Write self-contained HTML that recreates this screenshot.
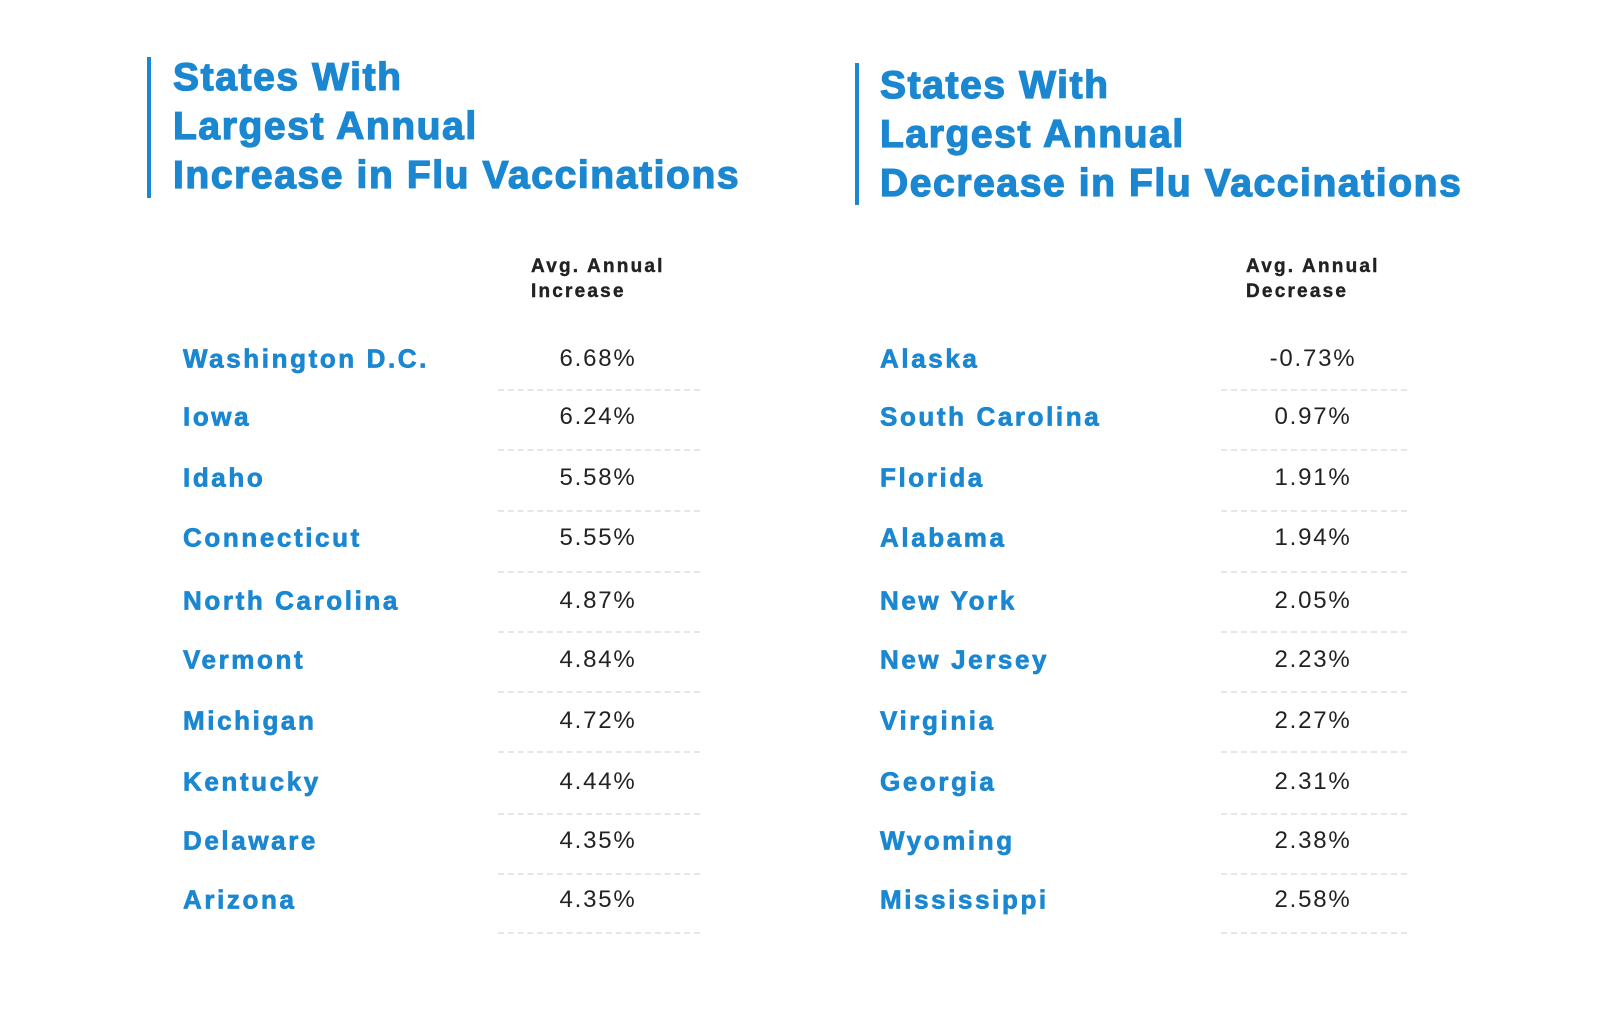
<!DOCTYPE html>
<html><head><meta charset="utf-8"><style>
body{margin:0;width:1600px;height:1010px;background:#fff;position:relative;overflow:hidden;font-family:"Liberation Sans",sans-serif}
.t{position:absolute;color:#1a87d0;font-weight:bold;font-size:39px;line-height:49px;letter-spacing:1.6px;white-space:nowrap;-webkit-text-stroke:1.3px #1a87d0}
.bar{position:absolute;width:4px;background:#1a87d0}
.h{position:absolute;font-weight:bold;font-size:19px;line-height:25px;color:#222;letter-spacing:2.2px;-webkit-text-stroke:0.4px #222}
.n{position:absolute;color:#1a87d0;font-weight:bold;font-size:26px;letter-spacing:2.6px;white-space:nowrap;transform:translateY(-50%);-webkit-text-stroke:0.7px #1a87d0}
.v{position:absolute;color:#222;font-size:24px;letter-spacing:1.8px;width:200px;text-align:center;transform:translateY(-50%)}
.d{position:absolute;height:0;border-top:2px dashed #e6e6e6}
</style></head><body>
<div class="bar" style="left:147px;top:57px;height:141px"></div>
<div class="t" style="left:173px;top:53px">States With<br>Largest Annual<br>Increase in Flu Vaccinations</div>
<div class="bar" style="left:855px;top:63px;height:142px"></div>
<div class="t" style="left:880px;top:61px">States With<br>Largest Annual<br>Decrease in Flu Vaccinations</div>
<div class="h" style="left:531px;top:254px">Avg. Annual<br>Increase</div>
<div class="h" style="left:1246px;top:254px">Avg. Annual<br>Decrease</div>
<div id="rows"></div>
<script>
var L=[["Washington D.C.","6.68%"],["Iowa","6.24%"],["Idaho","5.58%"],["Connecticut","5.55%"],["North Carolina","4.87%"],["Vermont","4.84%"],["Michigan","4.72%"],["Kentucky","4.44%"],["Delaware","4.35%"],["Arizona","4.35%"]];
var R=[["Alaska","-0.73%"],["South Carolina","0.97%"],["Florida","1.91%"],["Alabama","1.94%"],["New York","2.05%"],["New Jersey","2.23%"],["Virginia","2.27%"],["Georgia","2.31%"],["Wyoming","2.38%"],["Mississippi","2.58%"]];
var Y=[359,417,478,538,601,660,721,782,841,900],D=[389,449,510,571,631,691,751,813,873,932];
var h="";
for(var i=0;i<10;i++){
h+='<div class="n" style="left:183px;top:'+Y[i]+'px">'+L[i][0]+'</div>';
h+='<div class="v" style="left:498px;top:'+Y[i]+'px">'+L[i][1]+'</div>';
h+='<div class="d" style="left:498px;width:202px;top:'+D[i]+'px"></div>';
h+='<div class="n" style="left:880px;top:'+Y[i]+'px">'+R[i][0]+'</div>';
h+='<div class="v" style="left:1213px;top:'+Y[i]+'px">'+R[i][1]+'</div>';
h+='<div class="d" style="left:1221px;width:186px;top:'+D[i]+'px"></div>';
}
document.getElementById("rows").innerHTML=h;
</script>
</body></html>
